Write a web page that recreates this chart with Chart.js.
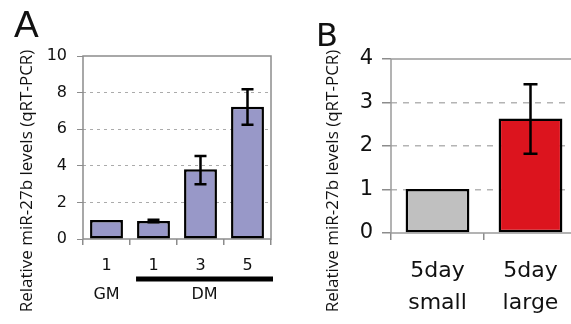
<!DOCTYPE html>
<html>
<head>
<meta charset="utf-8">
<script src="https://cdn.jsdelivr.net/npm/chart.js@4/dist/chart.umd.min.js"></script>
<style>
html, body { margin: 0; padding: 0; background: #fff; width: 571px; height: 324px; overflow: hidden; }
.panel { position: absolute; top: 0; }
</style>
</head>
<body>
<div class="panel" style="left:0"><canvas id="chartA" width="290" height="324"></canvas></div>
<div class="panel" style="left:290px"><canvas id="chartB" width="290" height="324"></canvas></div>
<script>
// panel A : days in culture
const daysA = ['1', '1', '3', '5'];
const levelsA = [1.04, 0.98, 3.81, 7.23];
const errHiA = [null, 1.05, 4.53, 8.18];
const errLoA = [null, 0.91, 2.99, 6.25];
const groupsA = [
  { name: 'GM', from: 0, to: 0, line: false },
  { name: 'DM', from: 1, to: 3, line: true }
];
const ticksA = [0, 2, 4, 6, 8, 10];

// panel B : myotube size
const labelsB = [['5day', 'small'], ['5day', 'large']];
const levelsB = [1.01, 2.63];
const errHiB = [null, 3.42];
const errLoB = [null, 1.82];
const colorsB = ['#c0c0c0', '#dc141e'];
const ticksB = [0, 1, 2, 3, 4];

const yTitle = 'Relative miR-27b levels (qRT-PCR)';

// frame, error bars, group labels, panel letter, axis title
const extras = {
  id: 'extras',
  beforeDatasetsDraw(chart, args, o) {
    const { ctx, chartArea: a } = chart;
    ctx.save();
    ctx.strokeStyle = o.frameColor;
    ctx.lineWidth = 1.5;
    ctx.strokeRect(a.left, a.top, a.right - a.left, a.bottom - a.top);
    ctx.restore();
  },
  afterDatasetsDraw(chart, args, o) {
    const { ctx } = chart;
    const y = chart.scales.y;
    const meta = chart.getDatasetMeta(0);
    ctx.save();
    ctx.strokeStyle = '#000';
    ctx.lineWidth = o.errWidth;
    meta.data.forEach((bar, i) => {
      if (o.hi[i] == null) return;
      const y1 = y.getPixelForValue(o.hi[i]);
      const y2 = y.getPixelForValue(o.lo[i]);
      ctx.beginPath();
      ctx.moveTo(bar.x, y1); ctx.lineTo(bar.x, y2);
      ctx.moveTo(bar.x - o.cap, y1); ctx.lineTo(bar.x + o.cap, y1);
      ctx.moveTo(bar.x - o.cap, y2); ctx.lineTo(bar.x + o.cap, y2);
      ctx.stroke();
    });
    ctx.restore();
  },
  afterDraw(chart, args, o) {
    const { ctx, chartArea: a } = chart;
    const x = chart.scales.x;
    const meta = chart.getDatasetMeta(0);
    ctx.save();
    ctx.fillStyle = '#111';
    // panel letter
    ctx.font = o.letterFont;
    ctx.textAlign = 'left';
    ctx.textBaseline = 'alphabetic';
    ctx.fillText(o.letter, o.letterX, o.letterY);
    // y axis title
    ctx.save();
    ctx.translate(o.titleX, o.titleY);
    ctx.rotate(-Math.PI / 2);
    ctx.font = '17px "Open Sans"';
    ctx.textAlign = 'center';
    ctx.textBaseline = 'middle';
    ctx.fillText(yTitle, 0, 0);
    ctx.restore();
    // group labels under the axis
    (o.groups || []).forEach(g => {
      let cx = (x.getPixelForValue(g.from) + x.getPixelForValue(g.to)) / 2;
      if (g.line) {
        const bar = meta.data[g.from];
        const x1 = bar.x - bar.width / 2 - 1;
        const x2 = a.right + 2;
        ctx.fillStyle = '#000';
        ctx.fillRect(x1, o.lineY - 2.5, x2 - x1, 5);
        cx = (x1 + x2) / 2;
      }
      ctx.fillStyle = '#111';
      ctx.font = '16px "DejaVu Sans"';
      ctx.textAlign = 'center';
      ctx.textBaseline = 'middle';
      ctx.fillText(g.name, cx, o.groupY);
    });
    ctx.restore();
  }
};

function gridColor(c, col) {
  const v = c.tick ? c.tick.value : 0;
  return (v === c.scale.min || v === c.scale.max) ? 'rgba(0,0,0,0)' : col;
}

new Chart(document.getElementById('chartA'), {
  type: 'bar',
  data: {
    labels: daysA,
    datasets: [{
      data: levelsA,
      backgroundColor: '#9898c8',
      borderColor: '#000',
      borderWidth: 2.5,
      borderSkipped: false,
      barPercentage: 0.7,
      categoryPercentage: 1.0
    }]
  },
  options: {
    responsive: false,
    animation: false,
    devicePixelRatio: 1,
    layout: { padding: { left: 0, top: 56, right: 19, bottom: 0 } },
    plugins: {
      legend: { display: false },
      tooltip: { enabled: false },
      extras: {
        hi: errHiA, lo: errLoA, cap: 6, errWidth: 2.5,
        frameColor: '#8c8c8c',
        letter: 'A', letterFont: '37px "Liberation Sans"', letterX: 14, letterY: 37,
        titleX: 27, titleY: 181,
        groups: groupsA, lineY: 279, groupY: 295
      }
    },
    scales: {
      x: {
        afterFit: s => { s.height = 85; },
        grid: { offset: true, drawOnChartArea: false, drawTicks: true, tickLength: 6, color: '#8c8c8c', lineWidth: 1.5 },
        border: { display: false },
        ticks: { color: '#111', font: { family: 'DejaVu Sans', size: 16 }, padding: 11 }
      },
      y: {
        min: 0, max: 10,
        afterFit: s => { s.width = 83; },
        afterBuildTicks: s => { s.ticks = ticksA.map(v => ({ value: v })); },
        grid: {
          color: c => gridColor(c, '#ababab'),
          tickColor: '#8c8c8c', tickLength: 6, tickBorderDash: [], lineWidth: 1
        },
        border: { display: false, dash: [3, 4] },
        ticks: { color: '#111', font: { family: 'DejaVu Sans', size: 16 }, padding: 10 }
      }
    }
  },
  plugins: [extras]
});

new Chart(document.getElementById('chartB'), {
  type: 'bar',
  data: {
    labels: labelsB,
    datasets: [{
      data: levelsB,
      backgroundColor: colorsB,
      borderColor: '#000',
      borderWidth: 2.5,
      borderSkipped: false,
      barPercentage: 0.686,
      categoryPercentage: 1.0
    }]
  },
  options: {
    responsive: false,
    animation: false,
    devicePixelRatio: 1,
    layout: { padding: { left: 0, top: 59, right: 3, bottom: 0 } },
    plugins: {
      legend: { display: false },
      tooltip: { enabled: false },
      extras: {
        hi: errHiB, lo: errLoB, cap: 7, errWidth: 2.5,
        frameColor: '#9a9a9a',
        letter: 'B', letterFont: '32px "DejaVu Sans"', letterX: 26, letterY: 46,
        titleX: 43, titleY: 181
      }
    },
    scales: {
      x: {
        afterFit: s => { s.height = 91; },
        grid: { offset: true, drawOnChartArea: false, drawTicks: true, tickLength: 7, color: '#8c8c8c', lineWidth: 1.5 },
        border: { display: false },
        ticks: { color: '#111', font: { family: 'DejaVu Sans', size: 22, lineHeight: 1.45 }, padding: 15 }
      },
      y: {
        min: 0, max: 4,
        afterFit: s => { s.width = 101; },
        afterBuildTicks: s => { s.ticks = ticksB.map(v => ({ value: v })); },
        grid: {
          color: c => gridColor(c, '#b4b4b4'),
          tickColor: '#8c8c8c', tickLength: 9, tickBorderDash: [], lineWidth: 1.5
        },
        border: { display: false, dash: [6, 6] },
        ticks: { color: '#111', font: { family: 'DejaVu Sans', size: 21 }, padding: 9 }
      }
    }
  },
  plugins: [extras]
});
</script>
</body>
</html>
